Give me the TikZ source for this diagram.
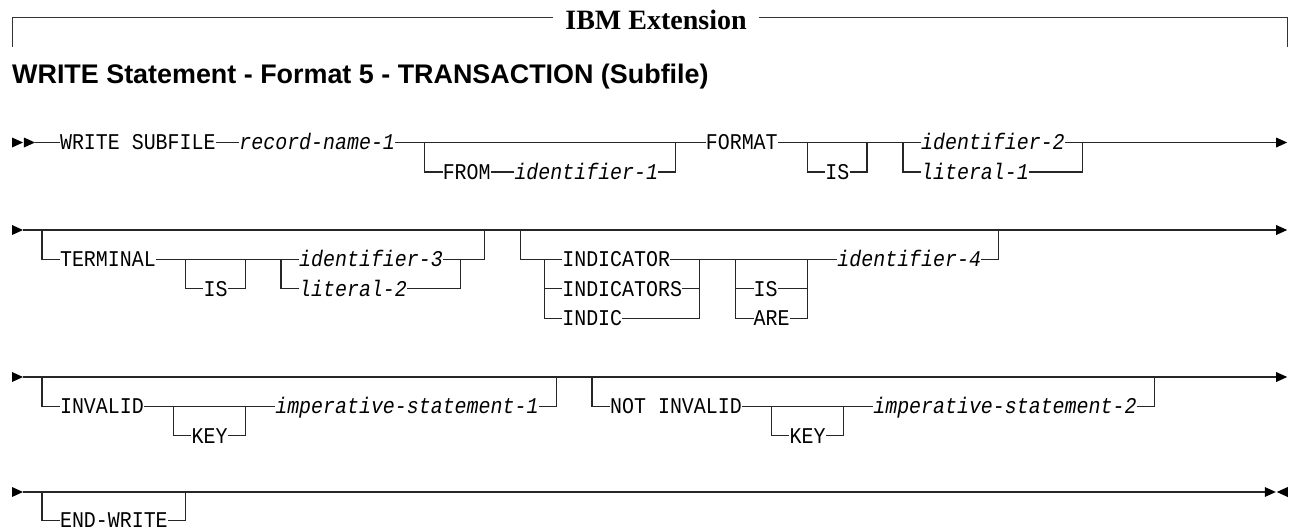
\documentclass[tikz,border=0pt]{standalone}
\usepackage{fontspec}
\setmainfont{Liberation Serif}
\newfontfamily\railfont[FakeStretch=0.886]{Liberation Mono}
\newfontfamily\headfont{Liberation Sans}
\newcommand{\railsize}{\fontsize{22.5}{24}\selectfont}
\tikzset{
  rail/.style={line width=1.3pt, black!85},
  kw/.style={font=\railfont\railsize, inner sep=0pt, anchor=west,
    text height=14.8pt, text depth=0pt},
  var/.style={kw, font=\railfont\railsize\itshape},
  fwd/.pic={\fill (0,-5pt) -- (11pt,0) -- (0,5pt) -- cycle;},
  bwd/.pic={\fill (11pt,-5pt) -- (0,0) -- (11pt,5pt) -- cycle;}
}
\begin{document}
\begin{tikzpicture}[x=1pt,y=-1pt]
\useasboundingbox (0,0) rectangle (1291,531);
% header
\node[font=\bfseries\fontsize{28}{30}\selectfont, inner xsep=12pt, inner ysep=0pt,
  text height=19pt, text depth=0pt] (ibm) at (656,20) {IBM Extension};
\coordinate (tl) at (12,47);
\coordinate (tr) at (1287,47);
\draw[line width=1pt, black!80] (tl) |- (ibm.west |- 0,17);
\draw[line width=1pt, black!80] (ibm.east |- 0,17) -| (tr);
\node[font=\headfont\bfseries\fontsize{26.9}{30}\selectfont, anchor=base west,
  inner sep=0pt] (title) at (12,83) {WRITE Statement - Format 5 - TRANSACTION (Subfile)};

\begin{scope}[x=11.96pt, xshift=12pt]
% row 1
\pic at (0,142.5) {fwd};
\pic at (1,142.5) {fwd};
\node[kw] (write) at (4,142.5) {WRITE SUBFILE};
\node[var] (recname) at (19,142.5) {record-name-1};
\node[kw] (from) at (36,172) {FROM};
\node[var] (idone) at (42,172) {identifier-1};
\node[kw] (format) at (58,142.5) {FORMAT};
\node[kw] (isone) at (68,172) {IS};
\node[var] (idtwo) at (76,142.5) {identifier-2};
\node[var] (litone) at (76,172) {literal-1};
\coordinate (startone) at (1.9,142.5);
\coordinate (endone) at (105.7,142.5);
\coordinate (froma) at (34.5,142.5);
\coordinate (fromb) at (55.5,142.5);
\coordinate (isa) at (66.5,142.5);
\coordinate (isb) at (71.5,142.5);
\coordinate (lita) at (74.5,142.5);
\coordinate (litb) at (89.5,142.5);
\draw[rail] (startone) -- (write.west);
\draw[rail] (write.east) -- (recname.west);
\draw[rail] (recname.east) -- (format.west);
\draw[rail] (froma) |- (from.west);
\draw[rail] (from.east) -- (idone.west);
\draw[rail] (idone.east) -| (fromb);
\draw[rail] (format.east) -- (idtwo.west);
\draw[rail] (isa) |- (isone.west);
\draw[rail] (isone.east) -| (isb);
\draw[rail] (lita) |- (litone.west);
\draw[rail] (litone.east) -| (litb);
\draw[rail] (idtwo.east) -- (endone);
\pic at (endone) {fwd};

% row 2
\pic at (0,230) {fwd};
\node[kw] (terminal) at (4,259.4) {TERMINAL};
\node[kw] (istwo) at (16,288.8) {IS};
\node[var] (idthree) at (24,259.4) {identifier-3};
\node[var] (littwo) at (24,288.8) {literal-2};
\node[kw] (ind) at (46,259.4) {INDICATOR};
\node[kw] (inds) at (46,288.8) {INDICATORS};
\node[kw] (indic) at (46,318.2) {INDIC};
\node[kw] (isthree) at (62,288.8) {IS};
\node[kw] (are) at (62,318.2) {ARE};
\node[var] (idfour) at (69,259.4) {identifier-4};
\coordinate (starttwo) at (0.9,230);
\coordinate (endtwo) at (105.7,230);
\coordinate (terma) at (2.5,230);
\coordinate (termb) at (39.5,230);
\coordinate (istwoa) at (14.5,259.4);
\coordinate (istwob) at (19.5,259.4);
\coordinate (littwoa) at (22.5,259.4);
\coordinate (littwob) at (37.5,259.4);
\coordinate (inda) at (42.5,230);
\coordinate (indb) at (82.5,230);
\coordinate (choa) at (44.5,259.4);
\coordinate (chob) at (44.5,288.8);
\coordinate (choc) at (57.5,259.4);
\coordinate (chod) at (57.5,288.8);
\coordinate (area) at (60.5,259.4);
\coordinate (areb) at (60.5,288.8);
\coordinate (arec) at (66.5,259.4);
\coordinate (ared) at (66.5,288.8);
\draw[rail] (starttwo) -- (endtwo);
\draw[rail] (terma) |- (terminal.west);
\draw[rail] (terminal.east) -- (idthree.west);
\draw[rail] (istwoa) |- (istwo.west);
\draw[rail] (istwo.east) -| (istwob);
\draw[rail] (littwoa) |- (littwo.west);
\draw[rail] (littwo.east) -| (littwob);
\draw[rail] (idthree.east) -| (termb);
\draw[rail] (inda) |- (ind.west);
\draw[rail] (ind.east) -- (idfour.west);
\draw[rail] (choa) |- (indic.west);
\draw[rail] (chob) -- (inds.west);
\draw[rail] (inds.east) -- (chod);
\draw[rail] (indic.east) -| (choc);
\draw[rail] (area) |- (are.west);
\draw[rail] (areb) -- (isthree.west);
\draw[rail] (isthree.east) -- (ared);
\draw[rail] (are.east) -| (arec);
\draw[rail] (idfour.east) -| (indb);
\pic at (endtwo) {fwd};

% row 3
\pic at (0,377) {fwd};
\node[kw] (inv) at (4,406.4) {INVALID};
\node[kw] (keyone) at (15,435.8) {KEY};
\node[var] (impone) at (22,406.4) {imperative-statement-1};
\node[kw] (notinv) at (50,406.4) {NOT INVALID};
\node[kw] (keytwo) at (65,435.8) {KEY};
\node[var] (imptwo) at (72,406.4) {imperative-statement-2};
\coordinate (startthree) at (0.9,377);
\coordinate (endthree) at (105.7,377);
\coordinate (inva) at (2.5,377);
\coordinate (invb) at (45.5,377);
\coordinate (keyonea) at (13.5,406.4);
\coordinate (keyoneb) at (19.5,406.4);
\coordinate (notinva) at (48.5,377);
\coordinate (notinvb) at (95.5,377);
\coordinate (keytwoa) at (63.5,406.4);
\coordinate (keytwob) at (69.5,406.4);
\draw[rail] (startthree) -- (endthree);
\draw[rail] (inva) |- (inv.west);
\draw[rail] (inv.east) -- (impone.west);
\draw[rail] (keyonea) |- (keyone.west);
\draw[rail] (keyone.east) -| (keyoneb);
\draw[rail] (impone.east) -| (invb);
\draw[rail] (notinva) |- (notinv.west);
\draw[rail] (notinv.east) -- (imptwo.west);
\draw[rail] (keytwoa) |- (keytwo.west);
\draw[rail] (keytwo.east) -| (keytwob);
\draw[rail] (imptwo.east) -| (notinvb);
\pic at (endthree) {fwd};

% row 4
\pic at (0,492) {fwd};
\node[kw] (endwrite) at (4,520.5) {END-WRITE};
\coordinate (startfour) at (0.9,492);
\coordinate (endfour) at (104.75,492);
\coordinate (stopfour) at (105.75,492);
\coordinate (enda) at (2.5,492);
\coordinate (endb) at (14.5,492);
\coordinate (endc) at (16.6,492);
\draw[rail] (startfour) -- (endfour);
\draw[rail] (enda) |- (endwrite.west);
\draw[rail] (endwrite.east) -| (endb);
\draw[rail, line width=2.4pt] (endb) -- (endc);
\pic at (endfour) {fwd};
\pic at (stopfour) {bwd};
\end{scope}
\end{tikzpicture}
\end{document}
